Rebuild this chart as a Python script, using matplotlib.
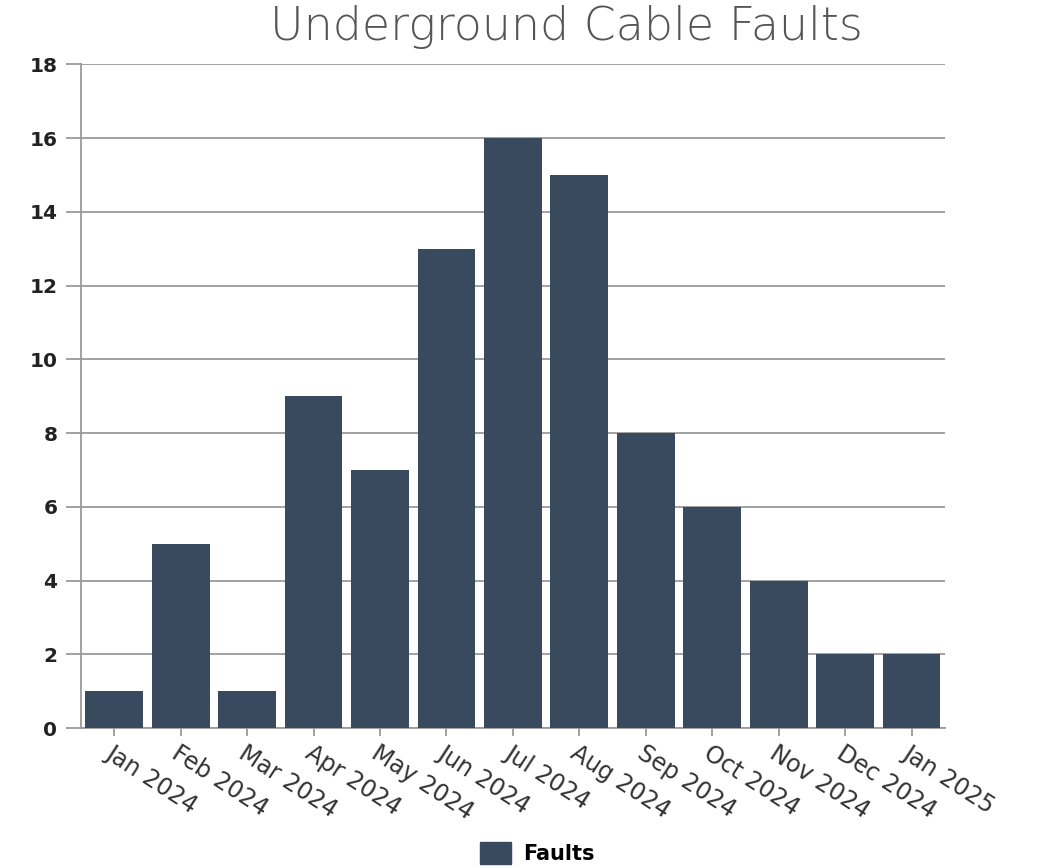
import matplotlib.pyplot as plt
from matplotlib.patches import Patch

months = ['Jan 2024', 'Feb 2024', 'Mar 2024', 'Apr 2024', 'May 2024', 'Jun 2024',
          'Jul 2024', 'Aug 2024', 'Sep 2024', 'Oct 2024', 'Nov 2024', 'Dec 2024',
          'Jan 2025']
faults = [1, 5, 1, 9, 7, 13, 16, 15, 8, 6, 4, 2, 2]
y_ticks = [0, 2, 4, 6, 8, 10, 12, 14, 16, 18]

bar_color = '#3a4a5e'
grid_color = '#9a9a9a'

fig = plt.figure(figsize=(10.58, 8.68), dpi=100)
ax = fig.add_axes([0.0766, 0.161, 0.8164, 0.765])

x = range(len(months))
ax.bar(x, faults, width=0.87, color=bar_color, zorder=3)

ax.set_xlim(-0.5, len(months) - 0.5)
ax.set_ylim(0, 18)
ax.set_yticks(y_ticks)
ax.set_yticklabels([str(v) for v in y_ticks], fontsize=14.5, fontweight='bold', color='#222222')
ax.yaxis.grid(True, color=grid_color, linewidth=1.3, zorder=0)
ax.tick_params(axis='y', length=11, width=1.3, color=grid_color, pad=6)

ax.set_xticks(list(x))
ax.set_xticklabels(months, rotation=-33, ha='left', va='top', rotation_mode='anchor',
                   fontsize=17, color='#333333')
ax.tick_params(axis='x', length=6, width=1.3, color=grid_color, pad=3)
for lbl in ax.get_xticklabels():
    lbl.set_x(lbl.get_position()[0])

for side in ['top', 'right']:
    ax.spines[side].set_visible(False)
for side in ['left', 'bottom']:
    ax.spines[side].set_color(grid_color)
    ax.spines[side].set_linewidth(1.3)

fig.text(0.535, 0.969, 'Underground Cable Faults', ha='center', va='center',
         fontsize=33, color='#555555', fontweight='light')

fig.legend(handles=[Patch(color=bar_color, label='Faults')], loc='center',
           bbox_to_anchor=(0.508, 0.017), frameon=False, handlelength=1.5, handleheight=1.2,
           handletextpad=0.6, prop={'weight': 'bold', 'size': 15})

fig.savefig('out.png', dpi=100)
